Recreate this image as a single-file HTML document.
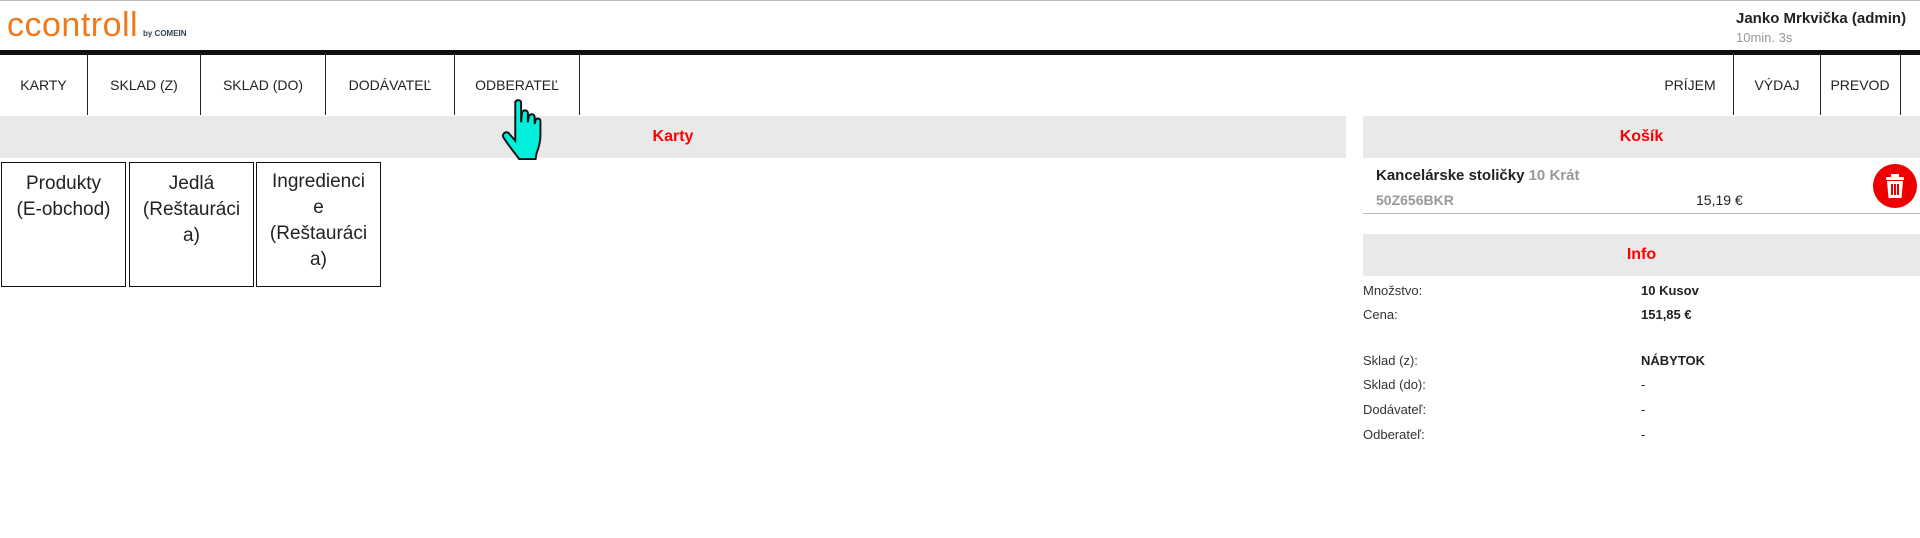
<!DOCTYPE html>
<html><head><meta charset="utf-8"><style>
body{margin:0;width:1920px;height:538px;background:#fff;font-family:"Liberation Sans",sans-serif;position:relative;overflow:hidden;color:#222}
.a{position:absolute}
.nav{position:absolute;top:55px;height:60px;font-size:14px;line-height:60px;text-align:center;color:#222}
.bar{position:absolute;background:#e9e9e9;color:#f00;font-weight:bold;font-size:16px;text-align:center}
.card{position:absolute;top:162px;width:125px;height:125px;border:1px solid #111;font-size:19px;text-align:center;line-height:26px;padding-top:8px;box-sizing:border-box}
.lbl{position:absolute;left:1363px;font-size:13px;color:#333}
.val{position:absolute;left:1641px;font-size:13px;font-weight:bold;color:#222}
</style></head><body>
<div class="a" style="left:0;top:0;width:1920px;height:1px;background:#bbb"></div>
<div class="a" style="left:7px;top:6px;font-size:34px;color:#f07a1a;letter-spacing:0.5px;font-family:'Liberation Sans',sans-serif">ccontroll</div>
<div class="a" style="left:143px;top:29px;font-size:8px;font-weight:bold;color:#345">by COMEIN</div>
<div class="a" style="left:1736px;top:10px;font-size:15px;font-weight:bold">Janko Mrkvička (admin)</div>
<div class="a" style="left:1736px;top:30px;font-size:13px;color:#999">10min. 3s</div>
<div class="a" style="left:0;top:50px;width:1920px;height:5px;background:#111"></div>
<div class="nav" style="left:0;width:87px;border-right:1px solid #222">KARTY</div>
<div class="nav" style="left:88px;width:112px;border-right:1px solid #222">SKLAD (Z)</div>
<div class="nav" style="left:201px;width:124px;border-right:1px solid #222">SKLAD (DO)</div>
<div class="nav" style="left:326px;width:128px;border-right:1px solid #222">DODÁVATEĽ</div>
<div class="nav" style="left:455px;width:124px;border-right:1px solid #222">ODBERATEĽ</div>
<div class="nav" style="left:1648px;width:84px">PRÍJEM</div>
<div class="nav" style="left:1733px;width:86px;border-left:1px solid #222;border-right:1px solid #222">VÝDAJ</div>
<div class="nav" style="left:1820px;width:80px;border-right:1px solid #222">PREVOD</div>
<div class="bar" style="left:0;top:116px;width:1346px;height:42px;line-height:42px">Karty</div>
<div class="bar" style="left:1363px;top:116px;width:557px;height:42px;line-height:42px">Košík</div>
<div class="card" style="left:1px">Produkty<br>(E-obchod)</div>
<div class="card" style="left:129px">Jedlá<br>(Reštauráci<br>a)</div>
<div class="card" style="left:256px;padding-top:6px">Ingredienci<br>e<br>(Reštauráci<br>a)</div>
<div class="a" style="left:1376px;top:167px;font-size:15px;font-weight:bold">Kancelárske stoličky <span style="color:#999">10 Krát</span></div>
<div class="a" style="left:1376px;top:192px;font-size:14px;font-weight:bold;color:#999">50Z656BKR</div>
<div class="a" style="left:1696px;top:192px;font-size:14px">15,19 €</div>
<div class="a" style="left:1363px;top:213px;width:557px;height:1px;background:#bbb"></div>
<svg class="a" style="left:1873px;top:164px" width="44" height="44" viewBox="0 0 44 44"><circle cx="22" cy="22" r="22" fill="#e00"/><rect x="13" y="13" width="18" height="3" rx="1" fill="#fff"/><rect x="18" y="10" width="8" height="3" fill="#fff"/><path d="M14 17h16l-1.5 17h-13z" fill="#fff"/><rect x="18" y="20" width="2" height="11" fill="#e00"/><rect x="21" y="20" width="2" height="11" fill="#e00"/><rect x="24" y="20" width="2" height="11" fill="#e00"/></svg>
<div class="bar" style="left:1363px;top:234px;width:557px;height:42px;line-height:42px">Info</div>
<div class="lbl" style="top:283px">Množstvo:</div><div class="val" style="top:283px">10 Kusov</div>
<div class="lbl" style="top:307px">Cena:</div><div class="val" style="top:307px">151,85 €</div>
<div class="lbl" style="top:353px">Sklad (z):</div><div class="val" style="top:353px">NÁBYTOK</div>
<div class="lbl" style="top:377px">Sklad (do):</div><div class="val" style="top:377px;font-weight:normal">-</div>
<div class="lbl" style="top:402px">Dodávateľ:</div><div class="val" style="top:402px;font-weight:normal">-</div>
<div class="lbl" style="top:427px">Odberateľ:</div><div class="val" style="top:427px;font-weight:normal">-</div>
<svg class="a" style="left:496px;top:98px" width="54" height="62" viewBox="0 0 50 64"><path d="M17 4c2-3 6-2 6 1v20l1-10c1-3 5-3 6 0v10l1-6c1-3 5-3 6 0v8l1-4c1-3 5-2 5 1v14c0 8-2 14-4 19l-1 6H21c-5-7-11-14-16-22-2-3 1-7 5-5l7 8z" fill="#00f0dc" stroke="#111" stroke-width="2"/></svg>
</body></html>
